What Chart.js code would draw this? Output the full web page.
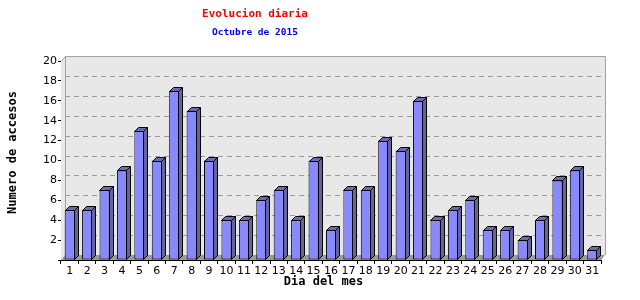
<!DOCTYPE html>
<html>
<head>
<meta charset="utf-8">
<script src="https://cdn.jsdelivr.net/npm/chart.js@4"></script>
<style>
  html, body { margin: 0; padding: 0; background: #fff; }
  #wrap { width: 640px; height: 300px; }
</style>
</head>
<body>
<div id="wrap"><canvas id="visitasChart" width="640" height="300"></canvas></div>
<script>
const dias = ['1','2','3','4','5','6','7','8','9','10','11','12','13','14','15','16',
              '17','18','19','20','21','22','23','24','25','26','27','28','29','30','31'];
const accesos = [5, 5, 7, 9, 13, 10, 17, 15, 10, 4, 4, 6, 7, 4, 10, 3,
                 7, 7, 12, 11, 16, 4, 5, 6, 3, 3, 2, 4, 8, 9, 1];
const yTicks = [2, 4, 6, 8, 10, 12, 14, 16, 18, 20];

const titulo = 'Evolucion diaria';
const subtitulo = 'Octubre de 2015';
const tituloX = 'Dia del mes';
const tituloY = 'Numero de accesos';

const DX = 4, DY = 5;
const mono = 'DejaVu Sans Mono';

// titles are placed like jpgraph does, not centred on the plot
const textPlugin = {
    id: 'textos',
    afterDraw(chart) {
        const { ctx } = chart;
        ctx.save();
        ctx.textAlign = 'center';
        ctx.textBaseline = 'middle';
        ctx.fillStyle = '#ff0000';
        ctx.font = 'bold 11px "' + mono + '"';
        ctx.fillText(titulo, 255, 14);
        ctx.fillStyle = '#0000ff';
        ctx.font = 'bold 9.5px "' + mono + '"';
        ctx.fillText(subtitulo, 255, 33);
        ctx.fillStyle = '#000';
        ctx.font = 'bold 12px "' + mono + '"';
        ctx.fillText(tituloX, 323.5, 282);
        ctx.translate(13, 152.5);
        ctx.rotate(-Math.PI / 2);
        ctx.fillText(tituloY, 0, 0);
        ctx.restore();
    }
};

// back wall, floor and dashed grid, jpgraph style
const wallPlugin = {
    id: 'wall',
    beforeDatasetsDraw(chart) {
        const { ctx, chartArea: a, scales: { y } } = chart;
        ctx.save();
        ctx.fillStyle = '#e8e8e8';
        ctx.beginPath();
        ctx.moveTo(a.left, a.top);
        ctx.lineTo(a.left + DX, a.top - DY);
        ctx.lineTo(a.right + DX, a.top - DY);
        ctx.lineTo(a.right + DX, a.bottom - DY);
        ctx.lineTo(a.right, a.bottom);
        ctx.lineTo(a.left, a.bottom);
        ctx.closePath();
        ctx.fill();

        ctx.strokeStyle = '#9a9a9a';
        ctx.lineWidth = 1;
        ctx.setLineDash([5, 4]);
        yTicks.forEach(v => {
            if (v >= 20) return;
            const py = Math.round(y.getPixelForValue(v) - DY) + 0.5;
            ctx.beginPath();
            ctx.moveTo(a.left + DX, py);
            ctx.lineTo(a.right + DX, py);
            ctx.stroke();
        });
        ctx.setLineDash([]);

        // floor
        ctx.fillStyle = '#9a9a9a';
        ctx.beginPath();
        ctx.moveTo(a.left, a.bottom);
        ctx.lineTo(a.right, a.bottom);
        ctx.lineTo(a.right + DX, a.bottom - DY);
        ctx.lineTo(a.left + DX, a.bottom - DY);
        ctx.closePath();
        ctx.fill();

        // wall edges
        ctx.strokeStyle = '#a0a0a0';
        ctx.beginPath();
        ctx.moveTo(a.left + 0.5, a.top);
        ctx.lineTo(a.left + DX + 0.5, a.top - DY + 0.5);
        ctx.lineTo(a.right + DX + 0.5, a.top - DY + 0.5);
        ctx.lineTo(a.right + DX + 0.5, a.bottom - DY);
        ctx.moveTo(a.left + DX + 0.5, a.top - DY);
        ctx.lineTo(a.left + DX + 0.5, a.bottom - DY);
        ctx.stroke();
        ctx.restore();
    },
    afterDatasetsDraw(chart) {
        const { ctx } = chart;
        const meta = chart.getDatasetMeta(0);
        ctx.save();
        ctx.strokeStyle = '#000';
        ctx.lineWidth = 1;
        meta.data.forEach(bar => {
            const { x, y, base, width } = bar.getProps(['x', 'y', 'base', 'width'], true);
            const l = Math.round(x - width / 2) + 0.5;
            const r = Math.round(x + width / 2) - 0.5;
            const t = Math.round(y) + 0.5;
            const b = Math.round(base) - 0.5;
            // side face
            ctx.fillStyle = '#6464a0';
            ctx.beginPath();
            ctx.moveTo(r, t);
            ctx.lineTo(r + DX, t - DX);
            ctx.lineTo(r + DX, b - DX);
            ctx.lineTo(r, b);
            ctx.closePath();
            ctx.fill();
            ctx.stroke();
            // top face
            ctx.fillStyle = '#6c6cac';
            ctx.beginPath();
            ctx.moveTo(l, t);
            ctx.lineTo(l + DX, t - DX);
            ctx.lineTo(r + DX, t - DX);
            ctx.lineTo(r, t);
            ctx.closePath();
            ctx.fill();
            ctx.stroke();
        });
        ctx.restore();
    }
};

const ctx = document.getElementById('visitasChart').getContext('2d');

new Chart(ctx, {
    type: 'bar',
    data: {
        labels: dias,
        datasets: [{
            data: accesos,
            backgroundColor: '#8888ff',
            borderColor: '#000',
            borderWidth: 1,
            borderSkipped: false,
            barPercentage: 0.58,
            categoryPercentage: 1
        }]
    },
    options: {
        responsive: false,
        animation: false,
        layout: { padding: { top: 61, right: 39, left: 0, bottom: 0 } },
        plugins: {
            legend: { display: false },
            tooltip: { enabled: false },
            title: { display: false },
            subtitle: { display: false }
        },
        scales: {
            x: {
                offset: true,
                grid: {
                    offset: true,
                    drawOnChartArea: false,
                    color: '#000',
                    tickLength: 4
                },
                border: { color: '#000' },
                ticks: {
                    color: '#000',
                    padding: 1,
                    maxRotation: 0,
                    autoSkip: false,
                    font: { family: 'DejaVu Sans', size: 11 }
                },
                afterFit: s => { s.height = 40; }
            },
            y: {
                min: 0,
                max: 20,
                grid: {
                    drawOnChartArea: false,
                    color: '#000',
                    tickLength: 3
                },
                border: { color: '#000' },
                ticks: {
                    stepSize: 2,
                    color: '#000',
                    padding: 1,
                    font: { family: 'DejaVu Sans', size: 11 },
                    callback: v => v === 0 ? '' : v
                },
                afterFit: s => { s.width = 61; }
            }
        }
    },
    plugins: [wallPlugin, textPlugin]
});
</script>
</body>
</html>
